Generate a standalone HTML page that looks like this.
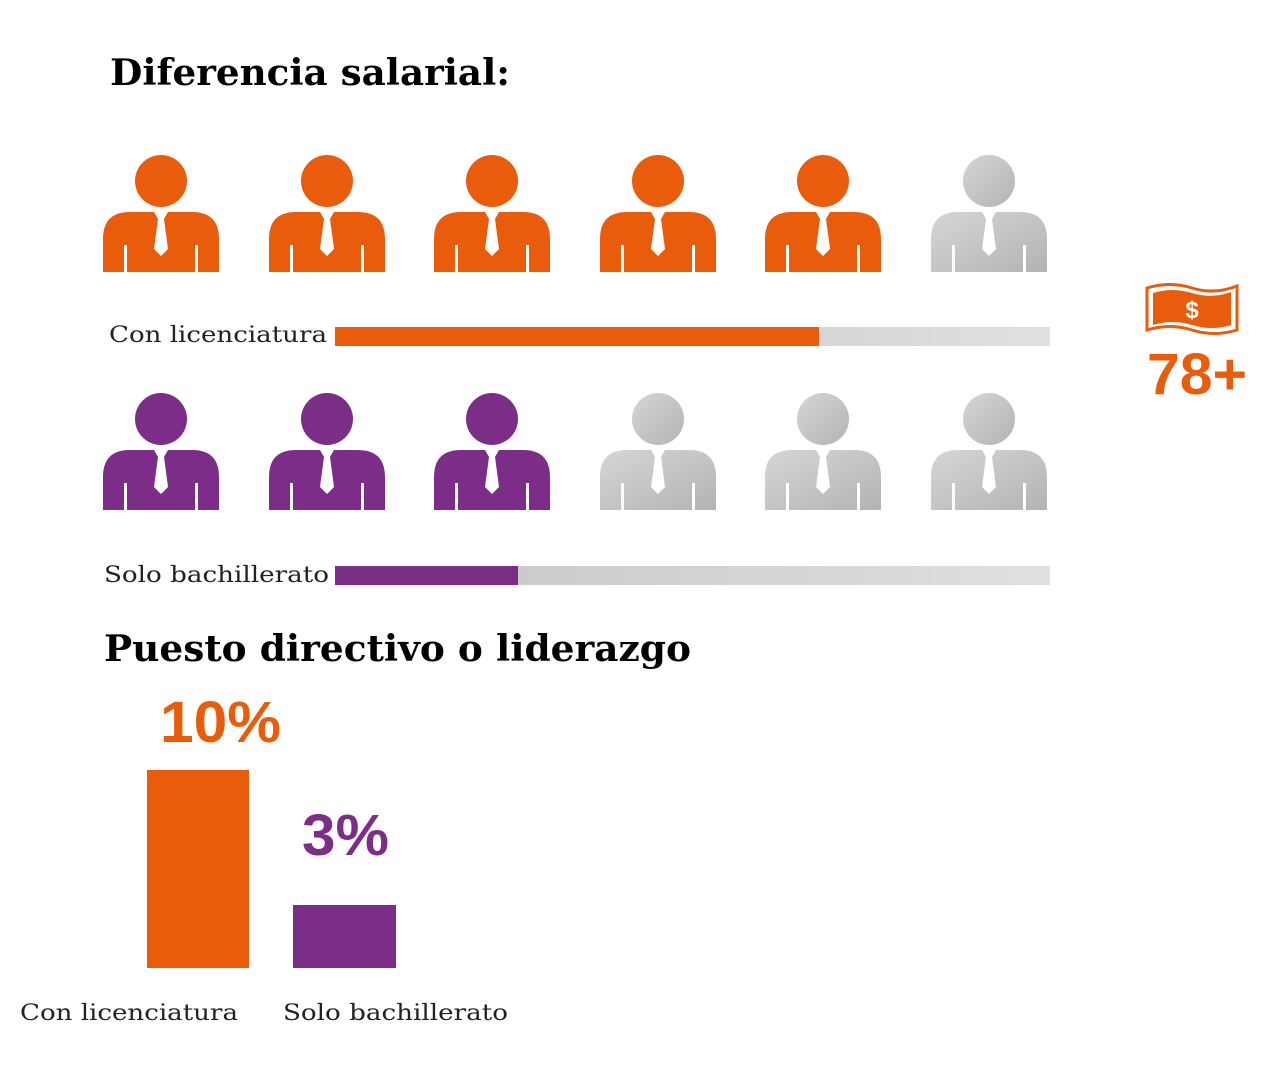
<!DOCTYPE html>
<html><head><meta charset="utf-8"><style>html,body{margin:0;padding:0;background:#fff}svg{display:block}</style></head>
<body>
<svg width="1277" height="1080" viewBox="0 0 1277 1080" xmlns="http://www.w3.org/2000/svg">
<defs>
<linearGradient id="g" x1="0" y1="0" x2="1" y2="1"><stop offset="0" stop-color="#d6d6d6"/><stop offset="1" stop-color="#b3b3b3"/></linearGradient>
<linearGradient id="bar" x1="0" y1="0" x2="1" y2="0"><stop offset="0" stop-color="#c4c4c4"/><stop offset="1" stop-color="#e0e0e0"/></linearGradient>
<g id="p">
<circle cx="0" cy="0" r="26"/>
<path d="M-58,91 V58 Q-58,31 -31,31 H31 Q58,31 58,58 V91 Z"/>
<rect x="-37" y="64" width="3" height="28" fill="#fff"/>
<rect x="34" y="64" width="3" height="28" fill="#fff"/>
<polygon points="-7,31 7,31 3,38 7,68 0,75 -7,68 -3,38" fill="#fff"/>
</g>
</defs>
<g font-family="'DejaVu Serif','Liberation Serif',serif" font-weight="bold">
<text x="110" y="85" font-size="36" textLength="400" lengthAdjust="spacingAndGlyphs">Diferencia salarial:</text>
<text x="104" y="661" font-size="36" textLength="587" lengthAdjust="spacingAndGlyphs">Puesto directivo o liderazgo</text>
</g>
<g fill="#E95C0C">
<use href="#p" x="161" y="181"/><use href="#p" x="327" y="181"/><use href="#p" x="492" y="181"/><use href="#p" x="658" y="181"/><use href="#p" x="823" y="181"/>
</g>
<use href="#p" x="989" y="181" fill="url(#g)"/>
<g fill="#7B2D87">
<use href="#p" x="161" y="419"/><use href="#p" x="327" y="419"/><use href="#p" x="492" y="419"/>
</g>
<g fill="url(#g)">
<use href="#p" x="658" y="419"/><use href="#p" x="823" y="419"/><use href="#p" x="989" y="419"/>
</g>
<rect x="335" y="327" width="715" height="19" fill="url(#bar)"/>
<rect x="335" y="327" width="484" height="19" fill="#E95C0C"/>
<rect x="335" y="566" width="715" height="19" fill="url(#bar)"/>
<rect x="335" y="566" width="183" height="19" fill="#7B2D87"/>
<g font-family="'DejaVu Serif','Liberation Serif',serif" font-size="22" fill="#222">
<text x="109" y="342" textLength="218" lengthAdjust="spacingAndGlyphs">Con licenciatura</text>
<text x="104" y="582" textLength="225" lengthAdjust="spacingAndGlyphs">Solo bachillerato</text>
<text x="20" y="1020" textLength="218" lengthAdjust="spacingAndGlyphs">Con licenciatura</text>
<text x="283" y="1020" textLength="225" lengthAdjust="spacingAndGlyphs">Solo bachillerato</text>
</g>
<!-- bill -->
<path d="M1147,288 Q1170,281 1192,288 Q1214,295 1237,286 V330 Q1214,337 1192,330 Q1170,323 1147,330 Z" fill="none" stroke="#E95C0C" stroke-width="3"/>
<path d="M1153,293 Q1172,287 1192,293 Q1212,299 1231,292 V325 Q1212,331 1192,325 Q1172,319 1153,325 Z" fill="#E95C0C"/>
<text x="1192" y="318" font-family="'Liberation Sans',sans-serif" font-size="24" font-weight="bold" fill="#fff" text-anchor="middle">$</text>
<g font-family="'Liberation Sans',sans-serif" font-weight="bold">
<text x="1147" y="394" font-size="58" fill="#E95C0C" textLength="100" lengthAdjust="spacingAndGlyphs">78+</text>
<text x="160" y="742" font-size="58" fill="#E95C0C" textLength="121" lengthAdjust="spacingAndGlyphs">10%</text>
<text x="302" y="855" font-size="58" fill="#7B2D87" textLength="87" lengthAdjust="spacingAndGlyphs">3%</text>
</g>
<rect x="147" y="770" width="102" height="198" fill="#E95C0C"/>
<rect x="293" y="905" width="103" height="63" fill="#7B2D87"/>
</svg>
</body></html>
